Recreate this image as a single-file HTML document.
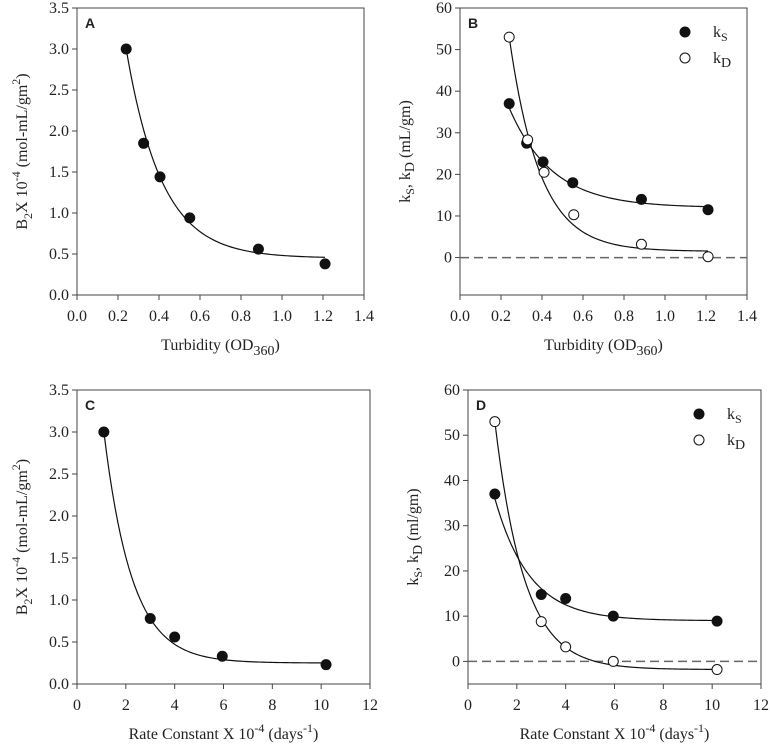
<!DOCTYPE html>
<html><head><meta charset="utf-8"><style>
body{margin:0;background:#fff}
svg{display:block}
text{font-family:"Liberation Serif",serif;fill:#222}
</style></head><body>
<svg id="c" width="770" height="750" viewBox="0 0 770 750"></svg>
<script>
const turbX = [0.24, 0.325, 0.405, 0.55, 0.885, 1.21];
const aB2 = [3.0, 1.85, 1.44, 0.94, 0.56, 0.38];
const bKs = [37, 27.5, 23, 18, 14, 11.5];
const bKdX = [0.24, 0.33, 0.41, 0.555, 0.885, 1.21];
const bKd = [53, 28.3, 20.5, 10.3, 3.2, 0.2];
const rateX = [1.1, 3.0, 4.0, 5.95, 10.2];
const cB2 = [3.0, 0.78, 0.56, 0.33, 0.23];
const dKs = [37, 14.8, 13.9, 10, 8.9];
const dKd = [53, 8.8, 3.2, 0, -1.8];
// exponential fit params [offset, amplitude, rate]
const fitA = [0.45, 10.1, 5.74];
const fitBs = [12, 75, 4.75];
const fitBd = [1.5, 256, 6.68];
const fitC = [0.25, 7.14, 0.867];
const fitDs = [9, 58.6, 0.704];
const fitDd = [-1.8, 136.7, 0.831];
const turbTicks = ["0.0","0.2","0.4","0.6","0.8","1.0","1.2","1.4"];
const rateTicks = ["0","2","4","6","8","10","12"];
const b2Ticks = ["0.0","0.5","1.0","1.5","2.0","2.5","3.0","3.5"];
const kTicks = ["0","10","20","30","40","50","60"];

const NS="http://www.w3.org/2000/svg";
const svg=document.getElementById('c');
function el(t,a,p){const e=document.createElementNS(NS,t);for(const k in a)e.setAttribute(k,a[k]);(p||svg).appendChild(e);return e;}

function panel(o){
  const g=el('g',{});
  
  
  const sx=v=>o.x0+(v-o.xmin)/(o.xmax-o.xmin)*(o.x1-o.x0);
  const sy=v=>o.y1-(v-o.ymin)/(o.ymax-o.ymin)*(o.y1-o.y0);
  const fr=el('rect',{x:o.x0,y:o.y0,width:o.x1-o.x0,height:o.y1-o.y0,fill:'none',stroke:'#444','stroke-width':1},g);
  
  
  o.xt.forEach(t=>{const v=parseFloat(t);const x=sx(v);
    el('line',{x1:x,x2:x,y1:o.y1,y2:o.y1+5,stroke:'#444'},g);
    const tx=el('text',{x:x,y:o.y1+26,'text-anchor':'middle','font-size':16},g);tx.textContent=t;
    
    });
  o.yt.forEach(t=>{const v=parseFloat(t);const y=sy(v);
    el('line',{x1:o.x0-5,x2:o.x0,y1:y,y2:y,stroke:'#444'},g);
    const tx=el('text',{x:o.x0-8,y:y+5,'text-anchor':'end','font-size':16},g);tx.textContent=t;
    
    });
  if(o.zero){const z=el('line',{x1:o.x0,x2:o.x1,y1:sy(0),y2:sy(0),stroke:'#666','stroke-width':1.5,'stroke-dasharray':'9,5'},g);
    
    }
  const lt=el('text',{x:o.x0+8,y:o.y0+20,'font-size':14,'font-weight':'bold',style:'font-family:"Liberation Sans",sans-serif'},g);lt.textContent=o.letter;
  
  
  o.series.forEach(s=>{
    let d='';const xa=s.x[0],xb=s.x[s.x.length-1];
    for(let i=0;i<=80;i++){const x=xa+(xb-xa)*i/80;const y=s.f[0]+s.f[1]*Math.exp(-s.f[2]*x);d+=(i?'L':'M')+sx(x).toFixed(2)+','+sy(y).toFixed(2);}
    const p=el('path',{d:d,fill:'none',stroke:'#111','stroke-width':1.2},g);
    
    
    s.x.forEach((xv,i)=>{const c=el('circle',{cx:sx(xv),cy:sy(s.y[i]),r:s.open?5:5.5,fill:s.open?'#fff':'#111',stroke:'#111','stroke-width':s.open?1:0},g);
      
      });
  });
  const xl=el('text',{x:(o.x0+o.x1)/2,y:o.y1+55,'text-anchor':'middle','font-size':16},g);xl.innerHTML=o.xlab;
  
  
  const yl=el('text',{x:0,y:0,'text-anchor':'middle','font-size':16,transform:`translate(${o.x0-50},${(o.y0+o.y1)/2}) rotate(-90)`},g);yl.innerHTML=o.ylab;
  
  
  if(o.legend){const lx=o.x1-62,ly=o.y0+24;
    const l1=el('g',{},g);
    el('circle',{cx:lx,cy:ly,r:5.5,fill:'#111'},l1);
    const t1=el('text',{x:lx+28,y:ly+5,'font-size':16},l1);t1.innerHTML='k<tspan dy="4" font-size="12">S</tspan>';
    const l2=el('g',{},g);
    el('circle',{cx:lx,cy:ly+26,r:5,fill:'#fff',stroke:'#111'},l2);
    const t2=el('text',{x:lx+28,y:ly+31,'font-size':16},l2);t2.innerHTML='k<tspan dy="4" font-size="14">D</tspan>';
  }
}
const turbLab='Turbidity (OD<tspan dy="5" font-size="14">360</tspan><tspan dy="-5">)</tspan>';
const rateLab='Rate Constant X 10<tspan dy="-7" font-size="12">-4</tspan><tspan dy="7"> (days</tspan><tspan dy="-7" font-size="12">-1</tspan><tspan dy="7">)</tspan>';
const b2Lab='B<tspan dy="5" font-size="12">2</tspan><tspan dy="-5">X 10</tspan><tspan dy="-7" font-size="12">-4</tspan><tspan dy="7"> (mol-mL/gm</tspan><tspan dy="-7" font-size="12">2</tspan><tspan dy="7">)</tspan>';
const kLab=u=>'k<tspan dy="4" font-size="12">S</tspan><tspan dy="-4">, k</tspan><tspan dy="4" font-size="14">D</tspan><tspan dy="-4"> ('+u+')</tspan>';

panel({name:'panel-a',letter:'A',x0:77,x1:364,y0:8,y1:295,xmin:0,xmax:1.4,ymin:0,ymax:3.5,xt:turbTicks,yt:b2Ticks,xlab:turbLab,ylab:b2Lab,
  series:[{name:'b2',x:turbX,y:aB2,f:fitA}]});
panel({name:'panel-b',letter:'B',x0:460,x1:747,y0:8,y1:295,xmin:0,xmax:1.4,ymin:-9,ymax:60,xt:turbTicks,yt:kTicks,xlab:turbLab,ylab:kLab('mL/gm'),zero:true,legend:true,
  series:[{name:'ks',x:turbX,y:bKs,f:fitBs},{name:'kd',x:bKdX,y:bKd,f:fitBd,open:true}]});
panel({name:'panel-c',letter:'C',x0:77,x1:370,y0:390,y1:684,xmin:0,xmax:12,ymin:0,ymax:3.5,xt:rateTicks,yt:b2Ticks,xlab:rateLab,ylab:b2Lab,
  series:[{name:'b2',x:rateX,y:cB2,f:fitC}]});
panel({name:'panel-d',letter:'D',x0:468,x1:761,y0:390,y1:684,xmin:0,xmax:12,ymin:-5,ymax:60,xt:rateTicks,yt:kTicks,xlab:rateLab,ylab:kLab('ml/gm'),zero:true,legend:true,
  series:[{name:'ks',x:rateX,y:dKs,f:fitDs},{name:'kd',x:rateX,y:dKd,f:fitDd,open:true}]});
</script>
</body></html>
